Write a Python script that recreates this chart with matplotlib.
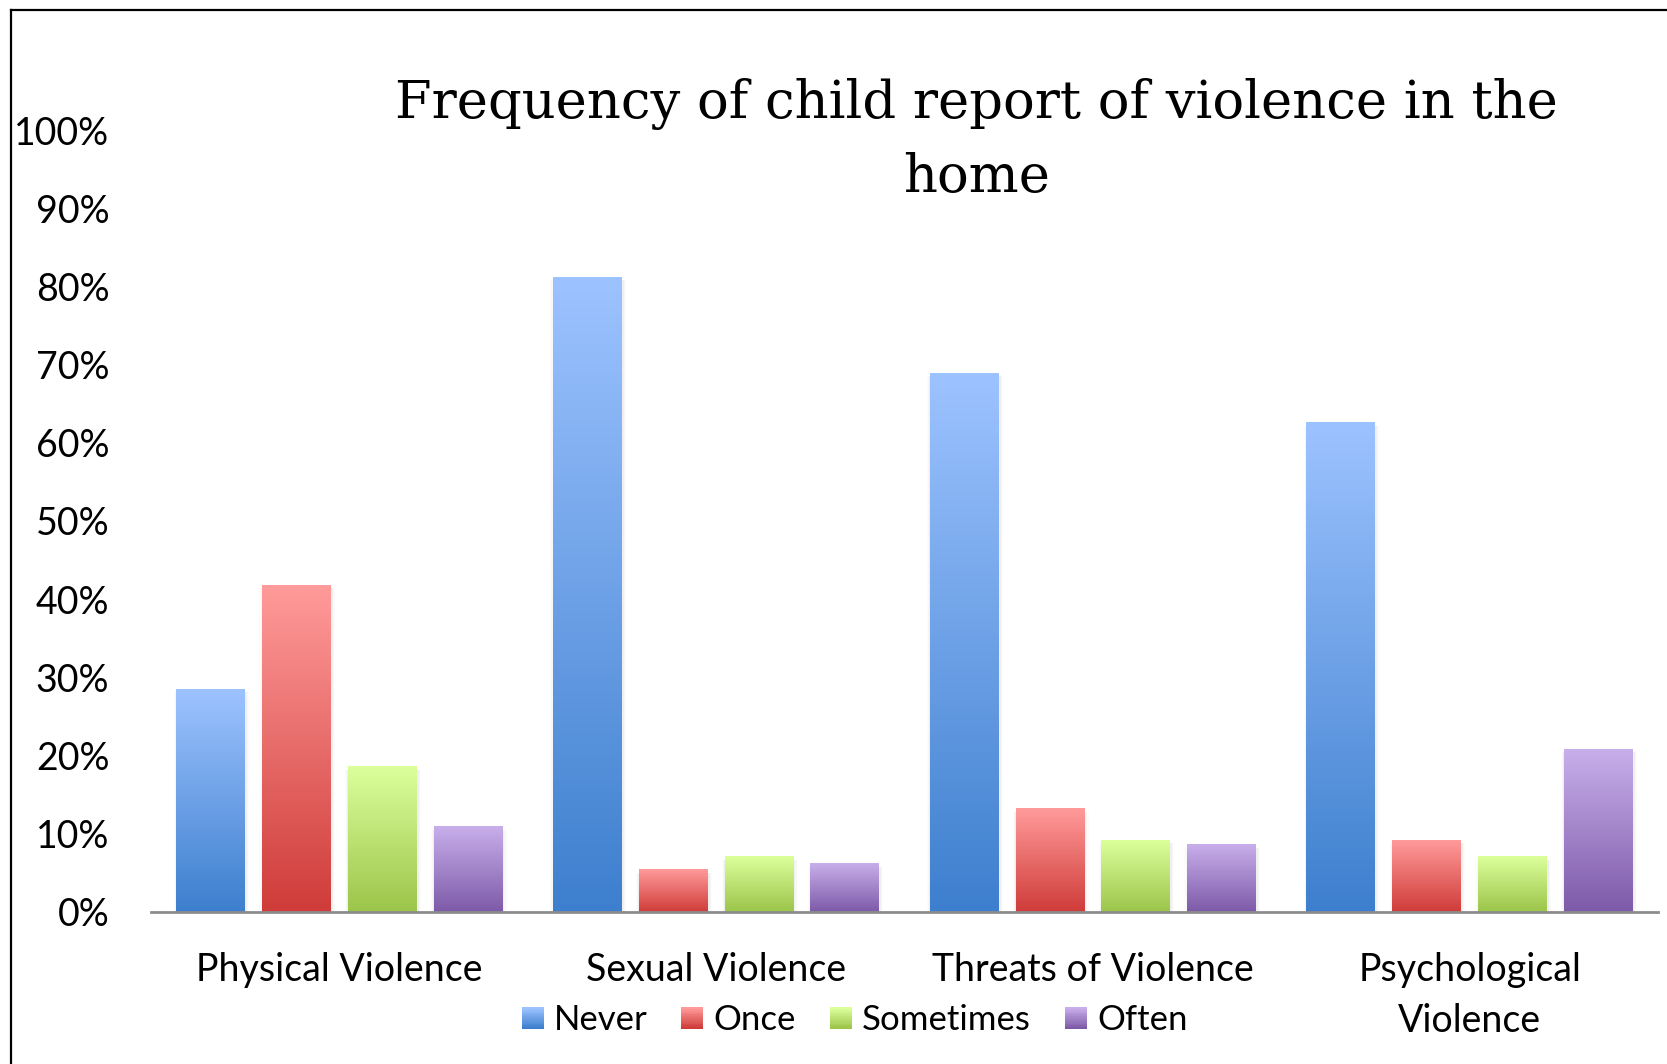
import numpy as np
import matplotlib
matplotlib.use("Agg")
import matplotlib.pyplot as plt
from matplotlib.colors import LinearSegmentedColormap
from matplotlib.patches import Rectangle
from matplotlib.lines import Line2D
from matplotlib.legend_handler import HandlerBase

categories = ["Physical Violence", "Sexual Violence", "Threats of Violence", "Psychological\nViolence"]
series = ["Never", "Once", "Sometimes", "Often"]
never = [0.285, 0.812, 0.689, 0.626]
once = [0.418, 0.054, 0.132, 0.092]
sometimes = [0.186, 0.071, 0.092, 0.071]
often = [0.109, 0.062, 0.086, 0.208]
values = [never, once, sometimes, often]

# top colour, bottom colour for each series
grads = [("#9dc3ff", "#3d7fce"), ("#ff9b9a", "#cf3c39"),
         ("#dcff9c", "#9cc54a"), ("#c8afeb", "#7d5aa8")]

plt.rcParams["font.family"] = ["Lato", "DejaVu Sans"]

fig = plt.figure(figsize=(16.67, 10.64), dpi=100)
ax = fig.add_axes([0.0906, 0.1429, 0.904, 0.7349])

x = np.arange(len(categories))
w = 0.183
step = 0.2277
grad = np.linspace(0, 1, 256).reshape(-1, 1)

for i, (vals, (top, bot)) in enumerate(zip(values, grads)):
    cmap = LinearSegmentedColormap.from_list(series[i], [bot, top])
    pos = x + (i - 1.5) * step
    bars = ax.bar(pos, vals, w, color="none", edgecolor="none", zorder=2)
    for b in bars:
        bx, by = b.get_x(), b.get_y()
        bw, bh = b.get_width(), b.get_height()
        # soft shadow
        for k, a in enumerate([0.03, 0.02, 0.012]):
            d = 0.003 * (k + 1)
            ax.add_patch(Rectangle((bx - d + 0.002, by), bw + 2 * d, bh - 0.004,
                                   color="black", alpha=a, lw=0, zorder=1))
        ax.imshow(grad, extent=(bx, bx + bw, by, by + bh), origin="lower",
                  cmap=cmap, aspect="auto", zorder=3)

ax.set_xlim(-0.5, 3.5)
ax.set_ylim(0, 1)
ax.set_yticks(np.arange(0, 1.01, 0.1))
ax.set_yticklabels([f"{int(round(v * 100))}%" for v in np.arange(0, 1.01, 0.1)])
ax.set_xticks(x)
ax.set_xticklabels(categories, linespacing=1.52)
ax.tick_params(axis="y", length=0, pad=30, labelsize=27)
ax.tick_params(axis="x", length=0, pad=28.5, labelsize=27)
for s in ["top", "right", "left"]:
    ax.spines[s].set_visible(False)
ax.spines["bottom"].set_color("#8c8c8c")
ax.spines["bottom"].set_linewidth(2)
ax.spines["bottom"].set_zorder(4)

fig.text(0.586, 0.8675, "Frequency of child report of violence in the\nhome",
         ha="center", va="center", fontsize=38, family=["DejaVu Serif"],
         linespacing=1.55)


class GradHandler(HandlerBase):
    def __init__(self, top, bot):
        super().__init__()
        self.top, self.bot = top, bot

    def create_artists(self, legend, orig_handle, xdescent, ydescent, width, height, fontsize, trans):
        cmap = LinearSegmentedColormap.from_list("g", [self.bot, self.top])
        n = 12
        s = height
        x0 = xdescent + width - s
        arts = []
        for j in range(n):
            r = Rectangle((x0, -ydescent + s * j / n), s, s / n + 0.3,
                          color=cmap(j / (n - 1)), lw=0, transform=trans)
            arts.append(r)
        return arts


handles = [Rectangle((0, 0), 1, 1) for _ in series]
hmap = {h: GradHandler(t, b) for h, (t, b) in zip(handles, grads)}
fig.legend(handles, series, handler_map=hmap, loc="center", bbox_to_anchor=(0.513, 0.041),
           ncol=4, frameon=False, fontsize=25, handlelength=0.6, handleheight=0.6,
           handletextpad=0.3, columnspacing=1.0)

# outer frame, only left and top show
fig.add_artist(Line2D([0.0066, 0.0066], [0, 0.9906], color="black", lw=1.6,
                      transform=fig.transFigure))
fig.add_artist(Line2D([0.0066, 1.0], [0.9906, 0.9906], color="black", lw=1.6,
                      transform=fig.transFigure))

fig.savefig("out.png", dpi=100)
